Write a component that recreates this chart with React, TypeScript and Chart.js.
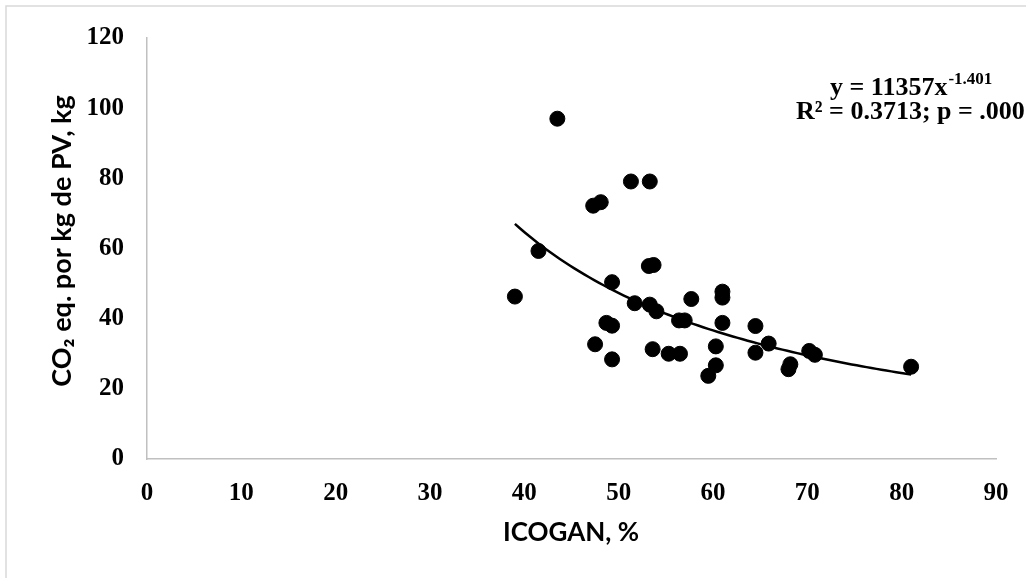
import React, { useEffect, useRef } from "react";
import { Chart, registerables } from "chart.js";

Chart.register(...registerables);

// ICOGAN (%) per farm
const icogan = [
  43.5, 51.3, 53.3, 47.3, 48.1, 41.5, 53.2, 53.7, 49.3, 39.0, 51.7, 53.3, 54.0,
  57.7, 61.0, 61.0, 48.7, 49.3, 56.4, 57.0, 61.0, 64.5, 65.9, 47.5, 49.3, 53.6,
  55.3, 56.5, 60.3, 60.3, 59.5, 64.5, 68.2, 68.0, 70.2, 70.8, 81.0,
];

// kg CO2 eq. per kg of live weight
const co2 = [
  97.0, 79.1, 79.1, 72.2, 73.2, 59.3, 55.0, 55.3, 50.4, 46.3, 44.4, 44.0, 42.1,
  45.6, 47.7, 46.0, 38.8, 38.0, 39.5, 39.5, 38.8, 37.9, 32.9, 32.7, 28.4, 31.3,
  30.0, 30.0, 32.1, 26.7, 23.7, 30.3, 27.0, 25.6, 30.8, 29.7, 26.3,
];

// Power trend line y = a * x^b
const trendA = 11357;
const trendB = -1.401;
const trendLabel = "y = 11357x";
const trendExpLabel = "-1.401";
const statsLabel = "R² = 0.3713; p = .000";

const xTicks = [0, 10, 20, 30, 40, 50, 60, 70, 80, 90];
const yTicks = [0, 20, 40, 60, 80, 100, 120];

const xTitle = "ICOGAN, %";
const yTitle = "CO₂ eq. por kg de PV, kg";

const serifFamily = "'Liberation Serif', 'Times New Roman', serif";
const sansFamily = "Lato, 'Open Sans', sans-serif";

export default function App() {
  const ref = useRef<HTMLCanvasElement | null>(null);

  useEffect(() => {
    document.body.style.margin = "0";
    const canvas = ref.current;
    if (!canvas) return;

    const points = icogan.map((x, i) => ({ x, y: co2[i] }));
    const xMin = Math.min(...icogan);
    const xMax = Math.max(...icogan);
    const trend: { x: number; y: number }[] = [];
    const steps = 80;
    for (let i = 0; i <= steps; i++) {
      const x = xMin + ((xMax - xMin) * i) / steps;
      trend.push({ x, y: trendA * Math.pow(x, trendB) });
    }

    const decor = {
      id: "decor",
      beforeDraw(chart: any) {
        const ctx = chart.ctx;
        ctx.save();
        ctx.fillStyle = "#ffffff";
        ctx.fillRect(0, 0, chart.width, chart.height);
        ctx.strokeStyle = "#d9d9d9";
        ctx.lineWidth = 1.5;
        ctx.strokeRect(6, 6, chart.width + 50, chart.height + 50);
        ctx.restore();
      },
      afterDraw(chart: any) {
        const ctx = chart.ctx;
        ctx.save();
        ctx.fillStyle = "#000000";
        ctx.textBaseline = "middle";
        ctx.textAlign = "center";
        // axis titles
        ctx.font = `bold 26px ${sansFamily}`;
        ctx.fillText(xTitle, 571, 533);
        ctx.save();
        ctx.translate(62, 241);
        ctx.rotate(-Math.PI / 2);
        ctx.font = `bold 27px ${sansFamily}`;
        ctx.fillText(yTitle, 0, 0);
        ctx.restore();
        // trend equation
        ctx.textBaseline = "alphabetic";
        ctx.textAlign = "left";
        ctx.font = `bold 26px ${serifFamily}`;
        ctx.fillText(trendLabel, 830, 95);
        const w = ctx.measureText(trendLabel).width;
        ctx.font = `bold 17px ${serifFamily}`;
        ctx.fillText(trendExpLabel, 830 + w + 1, 84);
        ctx.font = `bold 26px ${serifFamily}`;
        ctx.fillText(statsLabel, 796, 119);
        ctx.restore();
      },
    };

    const chart = new Chart(canvas, {
      type: "scatter",
      data: {
        datasets: [
          {
            type: "line",
            data: trend,
            borderColor: "#000000",
            borderWidth: 2.5,
            pointRadius: 0,
            tension: 0,
            fill: false,
            order: 2,
          } as any,
          {
            data: points,
            backgroundColor: "#000000",
            borderColor: "#000000",
            pointRadius: 7.5,
            pointHoverRadius: 7.5,
            order: 1,
          },
        ],
      },
      options: {
        responsive: false,
        animation: false,
        events: [],
        layout: { padding: { top: 35, right: 30, left: 0, bottom: 0 } },
        plugins: {
          legend: { display: false },
          tooltip: { enabled: false },
        },
        scales: {
          x: {
            type: "linear",
            min: 0,
            max: 90,
            afterFit(scale: any) {
              scale.height = 119;
              scale.paddingLeft = 0;
              scale.paddingRight = 0;
            },
            afterBuildTicks(scale: any) {
              scale.ticks = xTicks.map((v) => ({ value: v }));
            },
            grid: { display: false, drawTicks: false },
            border: { display: true, color: "#c0c0c0", width: 1.5 },
            ticks: {
              color: "#000000",
              font: { family: serifFamily, size: 25, weight: "bold" },
              padding: 20,
              maxRotation: 0,
            },
          },
          y: {
            type: "linear",
            min: 0,
            max: 120,
            afterFit(scale: any) {
              scale.width = 147;
            },
            afterBuildTicks(scale: any) {
              scale.ticks = yTicks.map((v) => ({ value: v }));
            },
            grid: { display: false, drawTicks: false },
            border: { display: true, color: "#c0c0c0", width: 1.5 },
            ticks: {
              color: "#000000",
              font: { family: serifFamily, size: 25, weight: "bold" },
              padding: 23,
            },
          },
        },
      },
      plugins: [decor],
    });

    return () => chart.destroy();
  }, []);

  return (
    <div style={{ width: 1026, height: 578 }}>
      <canvas ref={ref} width={1026} height={578} />
    </div>
  );
}
